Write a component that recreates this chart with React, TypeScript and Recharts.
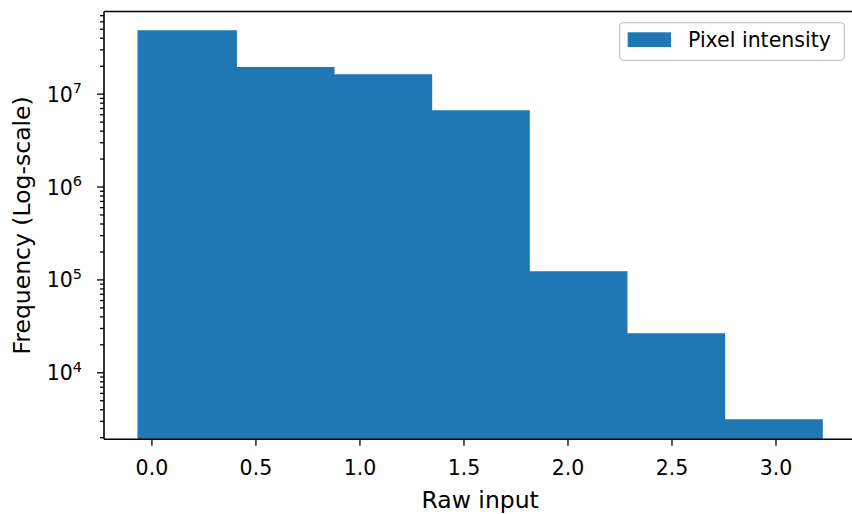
import React from 'react';
import { ComposedChart, Bar, XAxis, YAxis, Legend, ReferenceLine } from 'recharts';

// Histogram bin edges (Raw input) and counts per bin
const binEdges = [-0.066, 0.4034, 0.8728, 1.3422, 1.8116, 2.281, 2.7504, 3.2198];
const binCounts = [4.8e7, 1.93e7, 1.61e7, 6.6e6, 1.22e5, 2.62e4, 3.1e3];
const seriesName = 'Pixel intensity';

const xTicks = [0, 0.5, 1.0, 1.5, 2.0, 2.5, 3.0];
const xDomain = [-0.2303, 3.386];
const yMajorTicks = [1e4, 1e5, 1e6, 1e7];
const yMinorMultipliers = [2, 3, 4, 5, 6, 7, 8, 9];
const yMinorDecades = [1e3, 1e4, 1e5, 1e6, 1e7];
const yDomain = [1923, 7.76e7];

const data = binCounts.map((c, i) => ({
  x: (binEdges[i] + binEdges[i + 1]) / 2,
  count: c,
}));

const yTicks: number[] = [...yMajorTicks];
yMinorDecades.forEach((d) =>
  yMinorMultipliers.forEach((m) => {
    const v = m * d;
    if (v >= yDomain[0] && v <= yDomain[1]) yTicks.push(v);
  })
);
yTicks.sort((a, b) => a - b);

const FONT = '"DejaVu Sans", sans-serif';
const BLUE = '#1f77b4';

const YTick = (props: any) => {
  const { x, y, payload } = props;
  const v = payload.value as number;
  const exp = Math.round(Math.log10(v));
  const isMajor = Math.abs(v - Math.pow(10, exp)) < 1e-6 * v;
  const len = isMajor ? 7 : 4;
  return (
    <g>
      <line x1={x - len} x2={x} y1={y} y2={y} stroke="#000" strokeWidth={1.3} />
      {isMajor && (
        <text x={x - 22} y={y + 7.5} textAnchor="end" fontFamily={FONT} fontSize={20.5} fill="#000">
          10
          <tspan dy={-8.2} fontSize={14.5}>{exp}</tspan>
        </text>
      )}
    </g>
  );
};

const XTick = (props: any) => {
  const { x, y, payload } = props;
  return (
    <text x={x} y={y + 29.2} textAnchor="middle" fontFamily={FONT} fontSize={20.5} fill="#000">
      {(payload.value as number).toFixed(1)}
    </text>
  );
};

const LegendBox = (props: any) => {
  const p = props.payload && props.payload[0];
  const color = (p && p.color) || BLUE;
  const label = (p && p.value) || seriesName;
  return (
    <svg width={226} height={39} style={{ display: 'block' }}>
      <rect x={0.65} y={0.65} width={224.7} height={37.7} rx={4} ry={4} fill="rgba(255,255,255,0.8)" stroke="#cccccc" strokeWidth={1.3} />
      <rect x={8.7} y={10.3} width={43.3} height={14.7} fill={color} />
      <text x={69} y={25} fontFamily={FONT} fontSize={20.5} fill="#000">{label}</text>
    </svg>
  );
};

export default function App() {
  return (
    <div style={{ position: 'absolute', left: 0, top: 0, width: 852, height: 514, overflow: 'hidden', background: '#fff' }}>
      <ComposedChart
        width={860}
        height={514}
        data={data}
        margin={{ top: 11.5, right: 3.7, bottom: 0, left: 0 }}
        barCategoryGap={0}
        barGap={0}
      >
        <XAxis
          xAxisId="main"
          dataKey="x"
          type="number"
          domain={xDomain}
          allowDataOverflow
          ticks={xTicks}
          interval={0}
          height={74.7}
          tickSize={6.5}
          tickMargin={0}
          tick={<XTick />}
          tickLine={{ stroke: '#000', strokeWidth: 1.3 }}
          axisLine={{ stroke: '#000', strokeWidth: 1.6 }}
          label={{
            content: (lp: any) => {
              const vb = lp.viewBox || { x: 104, y: 439.3, width: 752 };
              return (
                <text x={vb.x + vb.width / 2} y={vb.y + 68.4} textAnchor="middle" fontFamily={FONT} fontSize={23.5} fill="#000">
                  Raw input
                </text>
              );
            },
          }}
        />
        <YAxis
          yAxisId="main"
          type="number"
          scale="log"
          domain={yDomain}
          allowDataOverflow
          ticks={yTicks}
          interval={0}
          width={104}
          tickSize={0}
          tickMargin={0}
          tickLine={false}
          tick={<YTick />}
          axisLine={{ stroke: '#000', strokeWidth: 1.6 }}
          label={{
            content: (lp: any) => {
              const vb = lp.viewBox || { x: 0, y: 11.5, width: 104, height: 427.8 };
              const cx = vb.x + 30.5;
              const cy = vb.y + vb.height / 2;
              return (
                <text x={cx} y={cy} transform={`rotate(-90 ${cx} ${cy})`} textAnchor="middle" fontFamily={FONT} fontSize={23.5} fill="#000">
                  Frequency (Log-scale)
                </text>
              );
            },
          }}
        />
        <Legend
          layout="vertical"
          align="center"
          verticalAlign="middle"
          wrapperStyle={{ position: 'absolute', left: 619, top: 21.7, width: 226, height: 39, margin: 0, padding: 0 }}
          content={<LegendBox />}
        />
        <Bar
          xAxisId="main"
          yAxisId="main"
          dataKey="count"
          name={seriesName}
          fill={BLUE}
          stroke={BLUE}
          strokeWidth={1.4}
          isAnimationActive={false}
        />
        <ReferenceLine
          xAxisId="main"
          yAxisId="main"
          y={yDomain[1]}
          stroke="#000"
          strokeWidth={1.6}
          ifOverflow="extendDomain"
        />
      </ComposedChart>
    </div>
  );
}
